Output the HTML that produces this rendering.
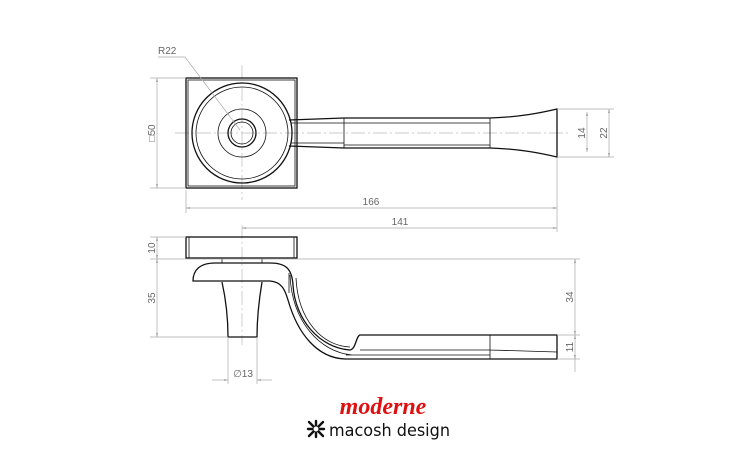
<!DOCTYPE html>
<html><head><meta charset="utf-8"><style>
html,body{margin:0;padding:0;background:#fff;width:755px;height:462px;overflow:hidden}
svg{display:block}
.d{stroke:#aaa;stroke-width:.7;fill:none}
.c{stroke:#bbb;stroke-width:.7;fill:none;stroke-dasharray:14 3 2 3}
.k{stroke:#111;stroke-width:1.3;fill:none}
.t{stroke:#111;stroke-width:.8;fill:none}
.l{font-family:"Liberation Sans",sans-serif;font-size:10px;fill:#666}
</style></head><body>
<svg width="755" height="462" viewBox="0 0 755 462">
<defs><marker id="a" viewBox="0 0 10 10" refX="10" refY="5" markerWidth="6" markerHeight="6" orient="auto-start-reverse"><path d="M0,3 L10,5 L0,7z" fill="#888"/></marker></defs>
<line class="c" x1="242" y1="65" x2="242" y2="200"/>
<line class="c" x1="175" y1="133" x2="570" y2="133"/>
<line class="c" x1="242" y1="225" x2="242" y2="345"/>
<rect class="k" x="186" y="78" width="111" height="110"/>
<rect class="t" x="188" y="80" width="107" height="106"/>
<circle class="k" cx="242" cy="133" r="50"/>
<circle class="t" cx="242" cy="133" r="46"/>
<circle class="t" cx="242" cy="133" r="24"/>
<circle class="k" cx="242" cy="133" r="14"/>
<circle class="t" cx="242" cy="133" r="11"/>
<path class="k" d="M289,120 L344,118 L490,118 C520,117 540,113 557,109 L557,157 C540,153 520,149 490,148 L344,148 L289,146"/>
<path class="t" d="M344,118 V148 M490,118 V148 M344,123 H490 M344,145 H490 M291,123 H344 M291,143 H344"/>
<line class="d" x1="157" y1="78" x2="157" y2="188" marker-start="url(#a)" marker-end="url(#a)"/>
<line class="d" x1="150" y1="78" x2="186" y2="78"/><line class="d" x1="150" y1="188" x2="186" y2="188"/>
<text class="l" transform="translate(155,133) rotate(-90)" text-anchor="middle">□50</text>
<line class="d" x1="186" y1="190" x2="186" y2="213"/>
<line class="d" x1="557" y1="158" x2="557" y2="232"/>
<line class="d" x1="186" y1="208" x2="557" y2="208" marker-start="url(#a)" marker-end="url(#a)"/>
<text class="l" x="371" y="205" text-anchor="middle">166</text>
<line class="d" x1="242" y1="228" x2="557" y2="228" marker-start="url(#a)" marker-end="url(#a)"/>
<text class="l" x="400" y="225" text-anchor="middle">141</text>
<line class="d" x1="557" y1="109" x2="614" y2="109"/><line class="d" x1="557" y1="157" x2="614" y2="157"/>
<line class="d" x1="587" y1="112" x2="587" y2="152" marker-start="url(#a)" marker-end="url(#a)"/>
<line class="d" x1="609" y1="109" x2="609" y2="157" marker-start="url(#a)" marker-end="url(#a)"/>
<text class="l" transform="translate(585,133) rotate(-90)" text-anchor="middle">14</text>
<text class="l" transform="translate(607,133) rotate(-90)" text-anchor="middle">22</text>
<path class="d" d="M158,57 H185 L240,130"/>
<text class="l" x="158" y="54">R22</text>
<rect class="k" x="186" y="237" width="111" height="21"/>
<line class="t" x1="189" y1="237" x2="189" y2="258"/><line class="t" x1="294" y1="237" x2="294" y2="258"/>
<path class="t" d="M222,258 V263 M262,258 V263"/>
<path class="k" d="M193,281 C193,270 200,263 215,263 L270,263 C285,263 292,268 293,285 C295,320 320,348 350,350 C356,349 356,336 360,335 L557,335 L557,359 L345,359 C318,358 298,335 288,300 C285,290 282,282 270,281 Z"/>
<path class="t" d="M290,275 C292,322 320,352 352,355 M296,278 C298,320 322,346 350,347 M346,355 H490 M490,335 V359 M360,350 H490 L557,352 M289,273 V293"/>
<path class="k" d="M222,282 C226,300 228,320 228,337 H257 C257,320 259,300 262,282"/>
<line class="d" x1="150" y1="237" x2="186" y2="237"/>
<line class="d" x1="150" y1="259" x2="580" y2="259"/>
<line class="d" x1="150" y1="337" x2="228" y2="337"/>
<line class="d" x1="157" y1="237" x2="157" y2="259" marker-start="url(#a)" marker-end="url(#a)"/>
<line class="d" x1="157" y1="259" x2="157" y2="337" marker-start="url(#a)" marker-end="url(#a)"/>
<text class="l" transform="translate(155,248) rotate(-90)" text-anchor="middle">10</text>
<text class="l" transform="translate(155,298) rotate(-90)" text-anchor="middle">35</text>
<line class="d" x1="557" y1="335" x2="580" y2="335"/><line class="d" x1="557" y1="359" x2="580" y2="359"/>
<line class="d" x1="575" y1="259" x2="575" y2="335" marker-start="url(#a)" marker-end="url(#a)"/>
<line class="d" x1="575" y1="335" x2="575" y2="359" marker-start="url(#a)" marker-end="url(#a)"/>
<line class="d" x1="575" y1="359" x2="575" y2="372"/>
<text class="l" transform="translate(573,297) rotate(-90)" text-anchor="middle">34</text>
<text class="l" transform="translate(573,347) rotate(-90)" text-anchor="middle">11</text>
<line class="d" x1="228" y1="337" x2="228" y2="384"/><line class="d" x1="257" y1="337" x2="257" y2="384"/>
<line class="d" x1="212" y1="380" x2="228" y2="380" marker-end="url(#a)"/>
<line class="d" x1="272" y1="380" x2="257" y2="380" marker-end="url(#a)"/>
<text class="l" x="243" y="377" text-anchor="middle">∅13</text>
<text x="383" y="414" text-anchor="middle" style="font-family:'Liberation Serif',serif;font-style:italic;font-weight:bold;font-size:24px;fill:#e01010">moderne</text>
<text x="329" y="436" textLength="121" lengthAdjust="spacingAndGlyphs" style="font-family:'DejaVu Sans','Liberation Sans',sans-serif;font-size:17px;fill:#111">macosh design</text>
<g transform="translate(316,429)" stroke="#111" stroke-width="2.4" stroke-linecap="round">
<line x1="-7" y1="-7" x2="7" y2="7"/><line x1="-7" y1="7" x2="7" y2="-7"/><line x1="0" y1="-8" x2="0" y2="8"/><line x1="-8" y1="0" x2="8" y2="0"/>
</g>
<circle cx="316" cy="429" r="2.5" fill="#fff"/>
</svg>
</body></html>
